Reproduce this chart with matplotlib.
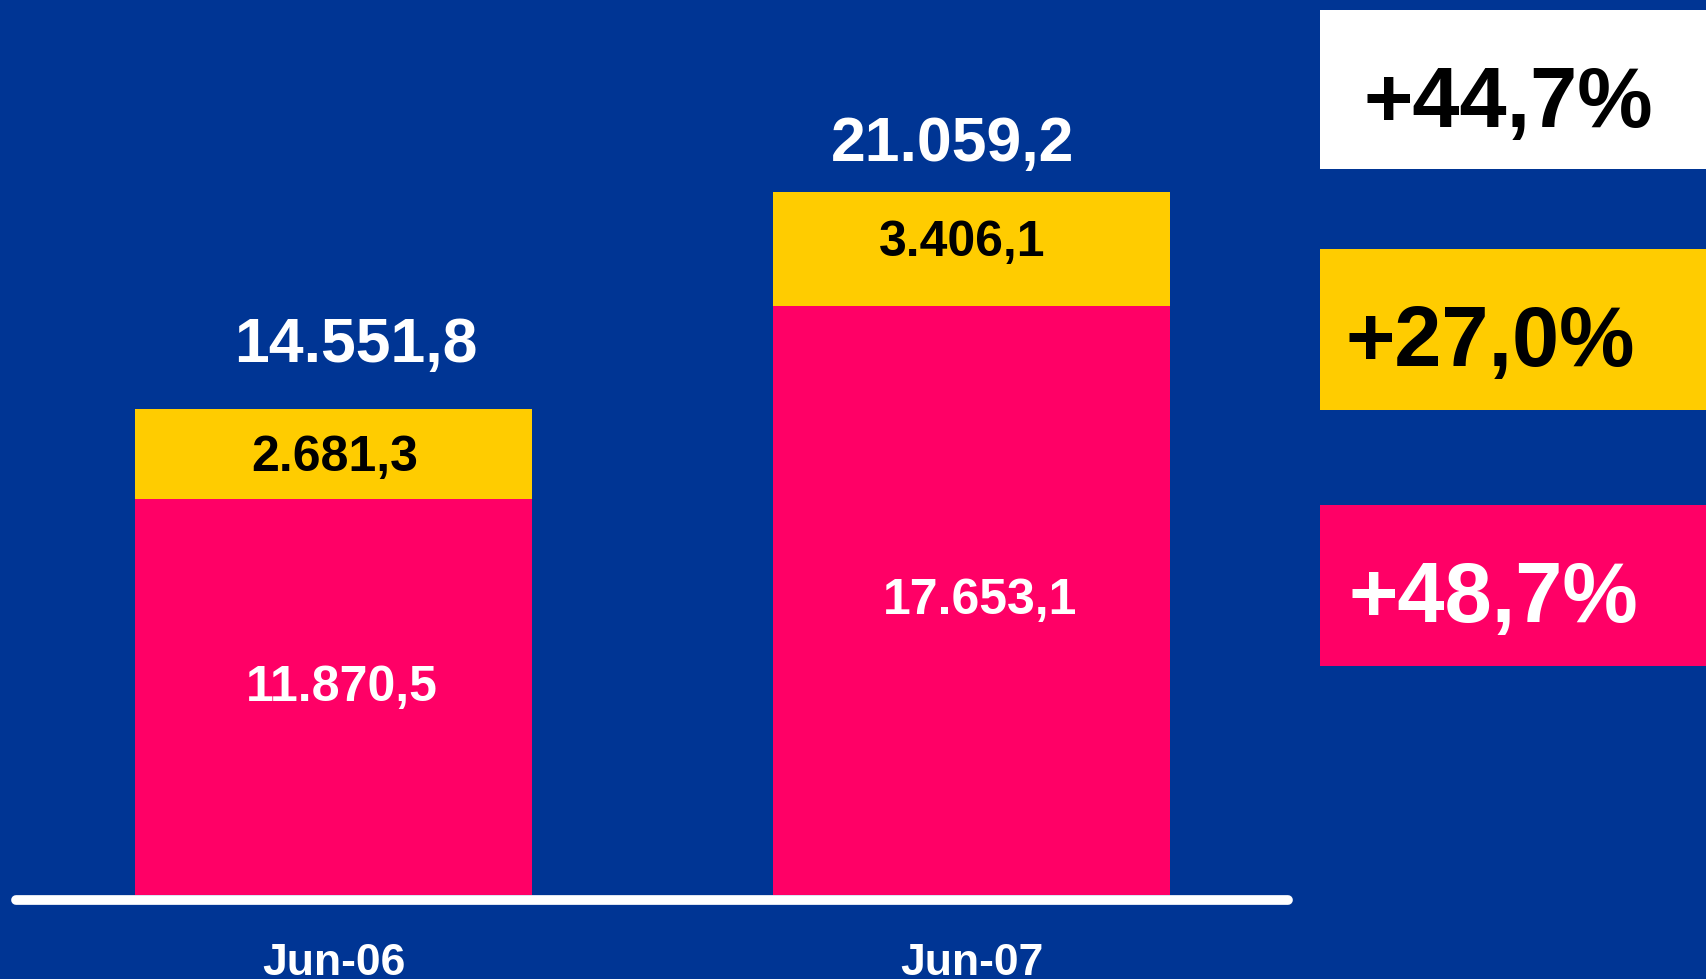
import matplotlib
matplotlib.use("Agg")
import matplotlib.pyplot as plt
from matplotlib.patches import Rectangle

# ---- data ----
categories = ["Jun-06", "Jun-07"]
pink_values = [11870.5, 17653.1]
yellow_values = [2681.3, 3406.1]
totals = [14551.8, 21059.2]


def fmt(v, dec=1):
    s = f"{v:,.{dec}f}"
    return s.replace(",", "X").replace(".", ",").replace("X", ".")


growth_total = (totals[1] / totals[0] - 1) * 100
growth_yellow = (yellow_values[1] / yellow_values[0] - 1) * 100
growth_pink = (pink_values[1] / pink_values[0] - 1) * 100

# ---- style ----
BG = "#003594"
PINK = "#FF0066"
YELLOW = "#FFCC00"
WHITE = "#FFFFFF"
FONT = "Liberation Sans"

W, H = 1707, 980
DPI = 100
fig = plt.figure(figsize=(W / DPI - 0.001, H / DPI - 0.001), dpi=DPI)
fig.patch.set_facecolor(BG)

# axes placement in pixels
ax_left, ax_right = 16, 1288
ax_top, ax_bottom = 0, 896
ax = fig.add_axes([ax_left / W, 1 - ax_bottom / H, (ax_right - ax_left) / W, (ax_bottom - ax_top) / H])
ax.set_facecolor(BG)
ax.patch.set_alpha(0)

x = list(range(len(categories)))
bw = 0.622
ax.bar(x, pink_values, width=bw, color=PINK, zorder=2)
ax.bar(x, yellow_values, width=bw, bottom=pink_values, color=YELLOW, zorder=2)

ax.set_xlim(-0.4977, 1.496)
ax.set_ylim(0, 26830)
px = 26830 / 896  # data units per pixel
ax.axhline(-4.5 * px, color=WHITE, lw=7, solid_capstyle="round", clip_on=False, zorder=3)

for s in ax.spines.values():
    s.set_visible(False)
ax.set_yticks([])
ax.set_xticks(x)
ax.set_xticklabels(categories, fontfamily=FONT, fontweight="bold", fontsize=32, color=WHITE)
ax.tick_params(axis="x", length=0, pad=34)

P2PT = 0.72
# label offsets (pixels) : (dx, dy) relative to anchor, baseline alignment
total_off = [(22, 48), (-19, 31.7)]
yellow_off = [(1, -16.5), (-9.5, -6)]
pink_off = [(8.5, -3), (8.5, -13)]

for i in x:
    ax.annotate(fmt(totals[i]), (i, totals[i]), xytext=(total_off[i][0] * P2PT, total_off[i][1] * P2PT),
                textcoords="offset points", ha="center", va="baseline",
                fontfamily=FONT, fontweight="bold", fontsize=45, color=WHITE)
    ymid = pink_values[i] + yellow_values[i] / 2
    ax.annotate(fmt(yellow_values[i]), (i, ymid), xytext=(yellow_off[i][0] * P2PT, yellow_off[i][1] * P2PT),
                textcoords="offset points", ha="center", va="baseline",
                fontfamily=FONT, fontweight="bold", fontsize=36, color="black")
    pmid = pink_values[i] / 2
    ax.annotate(fmt(pink_values[i]), (i, pmid), xytext=(pink_off[i][0] * P2PT, pink_off[i][1] * P2PT),
                textcoords="offset points", ha="center", va="baseline",
                fontfamily=FONT, fontweight="bold", fontsize=36, color=WHITE)

# ---- growth boxes on the right ----
boxes = [
    (11, 170, WHITE, "black", f"+{fmt(growth_total)}%", 1364, 127),
    (250, 411, YELLOW, "black", f"+{fmt(growth_yellow)}%", 1346, 366.5),
    (506, 667, PINK, WHITE, f"+{fmt(growth_pink)}%", 1349, 622),
]
for top, bot, fc, tc, txt, tx, ty in boxes:
    fig.patches.append(Rectangle((1320 / W, 1 - bot / H), (W - 1320) / W, (bot - top) / H,
                                 transform=fig.transFigure, facecolor=fc, edgecolor="none", zorder=1))
    fig.text(tx / W, 1 - ty / H, txt, ha="left", va="baseline", fontfamily=FONT,
             fontweight="bold", fontsize=61, color=tc, zorder=2)

fig.savefig("out.png", dpi=DPI, facecolor=BG)
